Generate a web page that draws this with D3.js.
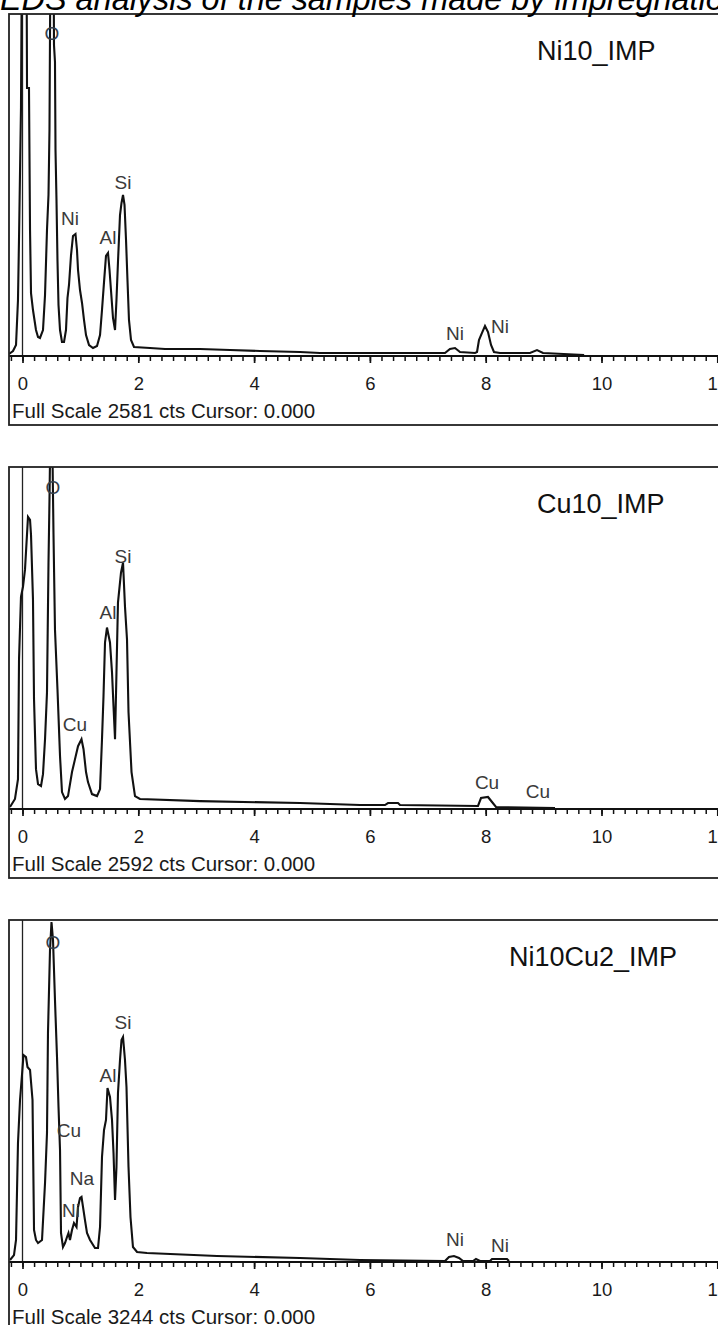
<!DOCTYPE html>
<html>
<head>
<meta charset="utf-8">
<script src="https://cdn.jsdelivr.net/npm/d3@7"></script>
<style>
  body { margin: 0; background: #fff; }
  text { font-family: "Liberation Sans", Arial, sans-serif; }
</style>
</head>
<body>
<div id="chart"></div>
<script>
var svgWidth = 718;
var svgHeight = 1325;

var sampleNames = ["Ni10_IMP", "Cu10_IMP", "Ni10Cu2_IMP"];
var fullScales = [2581, 2592, 3244];
var xTickLabels = [0, 2, 4, 6, 8, 10, 12];

// spectrum 1 - Ni10_IMP (keV / counts)
var ni10Energy = [-0.233, -0.164, -0.112, -0.078, -0.060, -0.026, -0.009, 0.069, 0.078, 0.112,
    0.130, 0.147, 0.181, 0.233, 0.268, 0.302, 0.354, 0.389, 0.423, 0.449,
    0.466, 0.484, 0.535, 0.544, 0.561, 0.570, 0.587, 0.604, 0.622, 0.648,
    0.682, 0.717, 0.751, 0.777, 0.803, 0.838, 0.872, 0.915, 0.941, 0.959,
    0.993, 1.028, 1.062, 1.097, 1.149, 1.218, 1.287, 1.339, 1.373, 1.408,
    1.442, 1.477, 1.503, 1.528, 1.563, 1.598, 1.623, 1.649, 1.684, 1.710,
    1.736, 1.762, 1.788, 1.813, 1.839, 1.874, 1.926, 2.202, 2.461, 3.066,
    3.584, 4.102, 4.793, 5.138, 5.829, 6.865, 7.297, 7.383, 7.470, 7.556,
    7.815, 7.850, 7.884, 7.936, 7.988, 8.040, 8.092, 8.143, 8.247, 8.765,
    8.886, 8.990, 9.700];
var ni10Counts = [15, 38, 83, 423, 891, 1879, 3140, 3140, 2023, 2023,
    951, 475, 347, 196, 143, 136, 196, 460, 951, 1215,
    1706, 3140, 3140, 2347, 2219, 1555, 1177, 725, 385, 196,
    106, 106, 196, 438, 536, 762, 906, 921, 800, 649,
    498, 400, 272, 158, 83, 60, 75, 158, 347, 558,
    755, 777, 649, 498, 287, 196, 423, 709, 1064, 1155,
    1215, 1140, 875, 574, 272, 121, 68, 60, 53, 53,
    45, 38, 30, 23, 23, 23, 23, 53, 60, 30,
    23, 30, 121, 174, 226, 181, 83, 30, 23, 23,
    45, 23, 8];
var ni10PeakNames = ["O", "Ni", "Al", "Si", "Ni", "Ni"];
var ni10PeakEnergy = [0.509, 0.820, 1.477, 1.736, 7.470, 8.247];
var ni10PeakCounts = [2438, 1041, 898, 1313, 174, 226];

// spectrum 2 - Cu10_IMP
var cu10Energy = [-0.216, -0.130, -0.078, -0.060, -0.026, 0.009, 0.043, 0.095, 0.130, 0.147,
    0.181, 0.199, 0.233, 0.268, 0.320, 0.354, 0.389, 0.423, 0.449, 0.466,
    0.475, 0.518, 0.535, 0.561, 0.604, 0.648, 0.682, 0.734, 0.786, 0.855,
    0.907, 0.959, 1.019, 1.054, 1.097, 1.131, 1.200, 1.287, 1.339, 1.373,
    1.399, 1.425, 1.459, 1.511, 1.546, 1.572, 1.598, 1.623, 1.649, 1.701,
    1.736, 1.770, 1.805, 1.831, 1.883, 1.943, 2.029, 3.066, 4.793, 5.829,
    6.260, 6.313, 6.485, 6.520, 7.867, 7.919, 8.040, 8.109, 8.178, 9.197];
var cu10Counts = [15, 76, 227, 1134, 1610, 1685, 1814, 2214, 2192, 2078,
    1587, 831, 302, 189, 174, 264, 529, 884, 1867, 2343,
    2645, 2683, 2093, 1360, 907, 401, 128, 76, 98, 280,
    378, 476, 529, 453, 280, 204, 113, 98, 151, 529,
    854, 1262, 1375, 1262, 1035, 778, 529, 1035, 1564, 1791,
    1867, 1534, 1285, 733, 280, 98, 76, 60, 45, 30,
    30, 45, 45, 30, 23, 83, 91, 53, 15, 8];
var cu10PeakNames = ["O", "Al", "Si", "Cu", "Cu", "Cu"];
var cu10PeakEnergy = [0.527, 1.477, 1.736, 0.907, 8.023, 8.903];
var cu10PeakCounts = [2441, 1489, 1912, 642, 204, 136];

// spectrum 3 - Ni10Cu2_IMP
var ni10cu2Energy = [-0.216, -0.147, -0.112, -0.078, -0.043, -0.009, 0.017, 0.060, 0.086, 0.130,
    0.173, 0.199, 0.233, 0.268, 0.337, 0.389, 0.423, 0.440, 0.475, 0.501,
    0.527, 0.561, 0.596, 0.622, 0.648, 0.665, 0.699, 0.734, 0.769, 0.794,
    0.820, 0.855, 0.889, 0.933, 0.959, 0.993, 1.019, 1.045, 1.079, 1.114,
    1.166, 1.252, 1.304, 1.339, 1.373, 1.408, 1.442, 1.468, 1.511, 1.546,
    1.572, 1.598, 1.623, 1.649, 1.684, 1.710, 1.736, 1.770, 1.796, 1.831,
    1.865, 1.908, 1.978, 2.150, 3.360, 4.793, 5.829, 7.297, 7.366, 7.452,
    7.539, 7.608, 7.781, 7.832, 7.902, 8.074, 8.109, 8.368, 8.402];
var ni10cu2Counts = [19, 66, 209, 1129, 1537, 1774, 1963, 1944, 1850, 1821,
    1537, 304, 209, 180, 209, 749, 1224, 2172, 2959, 3225,
    3054, 2485, 1944, 1470, 1063, 275, 142, 180, 237, 275,
    209, 304, 370, 332, 522, 607, 617, 522, 398, 275,
    209, 133, 133, 332, 996, 1252, 1347, 1650, 1565, 1347,
    1034, 588, 901, 1603, 1916, 2106, 2134, 1916, 1660, 901,
    427, 142, 95, 85, 57, 38, 19, 9, 47, 57,
    38, 9, 9, 28, 9, 9, 28, 28, 9];
var ni10cu2PeakNames = ["O", "Al", "Si", "Cu", "Na", "Ni", "Ni", "Ni"];
var ni10cu2PeakEnergy = [0.527, 1.477, 1.736, 0.803, 1.028, 0.838, 7.470, 8.247];
var ni10cu2PeakCounts = [3035, 1774, 2276, 1252, 797, 493, 218, 161];

var panels = [
    { name: sampleNames[0], fs: fullScales[0], e: ni10Energy, c: ni10Counts,
      pn: ni10PeakNames, pe: ni10PeakEnergy, pc: ni10PeakCounts, labelX: 537 },
    { name: sampleNames[1], fs: fullScales[1], e: cu10Energy, c: cu10Counts,
      pn: cu10PeakNames, pe: cu10PeakEnergy, pc: cu10PeakCounts, labelX: 537 },
    { name: sampleNames[2], fs: fullScales[2], e: ni10cu2Energy, c: ni10cu2Counts,
      pn: ni10cu2PeakNames, pe: ni10cu2PeakEnergy, pc: ni10cu2PeakCounts, labelX: 509 }
];

var frameLeft = 9;
var firstTop = 14;
var panelStep = 453;
var plotHeight = 342;
var frameHeight = 411;

var svg = d3.select("#chart")
    .append("svg")
    .attr("width", svgWidth)
    .attr("height", svgHeight);

var x = d3.scaleLinear().domain([0, 12]).range([22.5, 717.3]);

panels.forEach(function (p, i) {
    var top = firstTop + i * panelStep;
    var base = top + plotHeight;

    var y = d3.scaleLinear().domain([0, p.fs]).range([base, top]);

    var g = svg.append("g");

    svg.append("clipPath")
        .attr("id", "clip" + i)
        .append("rect")
        .attr("x", frameLeft)
        .attr("y", top)
        .attr("width", svgWidth)
        .attr("height", plotHeight);

    // cursor line at 0.000
    g.append("line")
        .attr("x1", x(0)).attr("x2", x(0))
        .attr("y1", top).attr("y2", base)
        .attr("stroke", "#222")
        .attr("stroke-width", 1.3);

    var pts = p.e.map(function (d, k) { return [d, p.c[k]]; });
    var line = d3.line()
        .x(function (d) { return x(d[0]); })
        .y(function (d) { return y(d[1]); });

    g.append("path")
        .datum(pts)
        .attr("clip-path", "url(#clip" + i + ")")
        .attr("d", line)
        .attr("fill", "none")
        .attr("stroke", "#111")
        .attr("stroke-width", 2.1)
        .attr("stroke-linejoin", "miter");

    // baseline
    g.append("line")
        .attr("x1", frameLeft).attr("x2", svgWidth)
        .attr("y1", base).attr("y2", base)
        .attr("stroke", "#111")
        .attr("stroke-width", 1.8);

    // minor ticks every 0.2 keV
    var minorAxis = d3.axisBottom(x)
        .tickValues(d3.range(-1, 63).map(function (k) { return k * 0.2; }))
        .tickSize(5)
        .tickFormat("");
    var mg = g.append("g")
        .attr("transform", "translate(0," + base + ")")
        .call(minorAxis);
    mg.select(".domain").remove();
    mg.selectAll("line").attr("stroke", "#111").attr("stroke-width", 1.5);

    var majorAxis = d3.axisBottom(x)
        .tickValues(xTickLabels)
        .tickSize(7)
        .tickPadding(14);
    var ag = g.append("g")
        .attr("transform", "translate(0," + base + ")")
        .call(majorAxis);
    ag.select(".domain").remove();
    ag.selectAll("line").attr("stroke", "#111").attr("stroke-width", 1.7);
    ag.selectAll("text")
        .attr("fill", "#1a1a1a")
        .style("font-size", "18.5px")
        .style("font-family", "'Liberation Sans', Arial, sans-serif");

    // element labels
    g.selectAll(".peak")
        .data(p.pn)
        .enter().append("text")
        .attr("class", "peak")
        .attr("x", function (d, k) { return x(p.pe[k]); })
        .attr("y", function (d, k) { return y(p.pc[k]); })
        .attr("dy", "0.35em")
        .attr("text-anchor", "middle")
        .attr("fill", function (d) { return d === "O" ? "#34404c" : "#3a3a3a"; })
        .style("font-size", "19px")
        .text(function (d) { return d; });

    // sample name
    g.append("text")
        .attr("x", p.labelX)
        .attr("y", top + 46)
        .attr("fill", "#111")
        .style("font-size", "27px")
        .text(p.name);

    g.append("text")
        .attr("x", 12)
        .attr("y", top + 404)
        .attr("fill", "#1a1a1a")
        .style("font-size", "20.5px")
        .text("Full Scale " + p.fs + " cts Cursor: 0.000");

    // frame
    g.append("rect")
        .attr("x", frameLeft)
        .attr("y", top)
        .attr("width", svgWidth)
        .attr("height", frameHeight)
        .attr("fill", "none")
        .attr("stroke", "#222")
        .attr("stroke-width", 1.8);
});

// title, cut off at the top like the source image
svg.append("text")
    .attr("x", 0)
    .attr("y", 10)
    .attr("fill", "#000")
    .style("font-size", "32.4px")
    .style("font-style", "italic")
    .text("EDS analysis of the samples made by impregnation");
</script>
</body>
</html>
